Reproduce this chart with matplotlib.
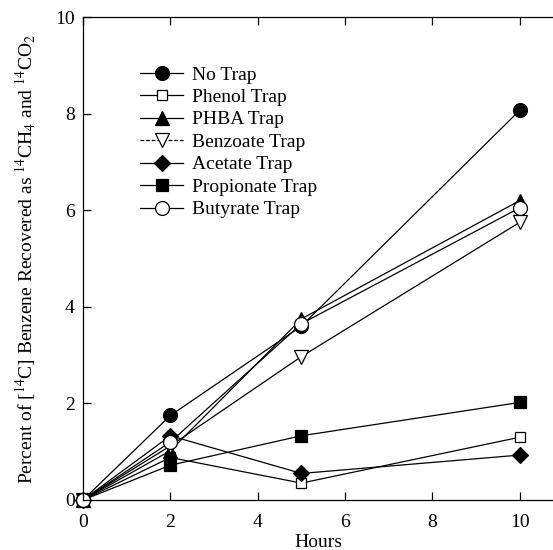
import matplotlib
matplotlib.use("Agg")
import matplotlib.pyplot as plt

hours = [0, 2, 5, 10]
no_trap = [0, 1.75, 3.6, 8.07]
phenol = [0, 0.88, 0.35, 1.3]
phba = [0, 1.02, 3.75, 6.2]
benzoate = [0, 1.12, 2.97, 5.75]
acetate = [0, 1.33, 0.55, 0.93]
propionate = [0, 0.72, 1.33, 2.02]
butyrate = [0, 1.2, 3.65, 6.05]

plt.rcParams['font.family'] = ['Liberation Serif', 'DejaVu Serif']
plt.rcParams['mathtext.fontset'] = 'stix'

fig = plt.figure(figsize=(5.53, 5.50), dpi=100)
ax = fig.add_axes([83/553, 50/550, 1 - 83/553, (500-17)/550])

series = [
    ("No Trap", no_trap, dict(marker='o', mfc='black', ms=10)),
    ("Phenol Trap", phenol, dict(marker='s', mfc='white', ms=7.5)),
    ("PHBA Trap", phba, dict(marker='^', mfc='black', ms=10)),
    ("Benzoate Trap", benzoate, dict(marker='v', mfc='white', ms=10)),
    ("Acetate Trap", acetate, dict(marker='D', mfc='black', ms=8)),
    ("Propionate Trap", propionate, dict(marker='s', mfc='black', ms=8)),
    ("Butyrate Trap", butyrate, dict(marker='o', mfc='white', ms=10)),
]
for name, vals, st in series:
    kw = dict(color='black', mec='black', lw=0.9, mew=0.9, ls='-')
    kw.update(st)
    ax.plot(hours, vals, label=name, clip_on=False, **kw)

ax.set_xlim(0, 10.76)
ax.set_ylim(0, 10)
ax.set_xticks([0, 2, 4, 6, 8, 10])
ax.set_yticks([0, 2, 4, 6, 8, 10])
ax.tick_params(direction='in', top=True, right=False, labelsize=14, length=6, width=0.9)
ax.tick_params(axis='x', pad=10)
ax.tick_params(axis='y', pad=6)
ax.spines['right'].set_visible(False)
for s in ['left', 'top', 'bottom']:
    ax.spines[s].set_linewidth(0.9)
ax.set_xlabel("Hours", fontsize=14, labelpad=2)
ax.set_ylabel(r"Percent of [$^{14}$C] Benzene Recovered as $^{14}$CH$_4$ and $^{14}$CO$_2$",
              fontsize=14, labelpad=12)

leg = ax.legend(loc='upper left', bbox_to_anchor=(0.085, 0.935), frameon=False,
                fontsize=14, handlelength=2.2, labelspacing=0.25, handletextpad=0.45)
leg.get_lines()[3].set_linestyle((0, (3, 1.5)))

fig.savefig("out.png", dpi=100)
